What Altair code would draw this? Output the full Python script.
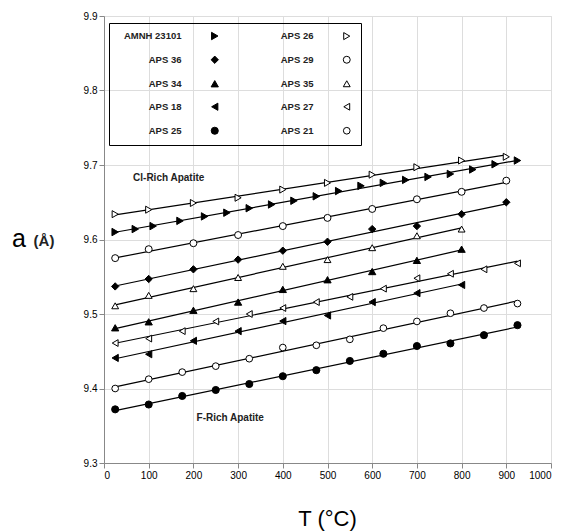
import altair as alt
import pandas as pd

# ---- data ----
T_AMNH_23101 = [25, 70, 110, 170, 225, 275, 325, 375, 425, 475, 525, 575, 625, 675, 725, 775, 825, 875, 925]
A_AMNH_23101 = [9.610, 9.614, 9.618, 9.625, 9.631, 9.636, 9.642, 9.647, 9.652, 9.658, 9.665, 9.672, 9.676,
                9.680, 9.684, 9.688, 9.694, 9.701, 9.706]

T_APS_26 = [25, 100, 200, 300, 400, 500, 600, 700, 800, 900]
A_APS_26 = [9.634, 9.640, 9.649, 9.656, 9.667, 9.676, 9.687, 9.697, 9.706, 9.711]

T_APS_29 = [25, 100, 200, 300, 400, 500, 600, 700, 800, 900]
A_APS_29 = [9.575, 9.587, 9.595, 9.606, 9.618, 9.629, 9.641, 9.654, 9.664, 9.679]

T_APS_36 = [25, 100, 200, 300, 400, 500, 600, 700, 800, 900]
A_APS_36 = [9.537, 9.547, 9.560, 9.573, 9.585, 9.597, 9.614, 9.618, 9.634, 9.650]

T_APS_35 = [25, 100, 200, 300, 400, 500, 600, 700, 800]
A_APS_35 = [9.511, 9.525, 9.534, 9.549, 9.564, 9.573, 9.589, 9.605, 9.614]

T_APS_34 = [25, 100, 200, 300, 400, 500, 600, 700, 800]
A_APS_34 = [9.4815, 9.4895, 9.505, 9.516, 9.533, 9.546, 9.557, 9.572, 9.587]

T_APS_27 = [25, 100, 175, 250, 325, 400, 475, 550, 625, 700, 775, 850, 925]
A_APS_27 = [9.461, 9.467, 9.477, 9.490, 9.500, 9.508, 9.516, 9.523, 9.534, 9.548, 9.554, 9.560, 9.568]

T_APS_18 = [25, 100, 200, 300, 400, 500, 600, 700, 800]
A_APS_18 = [9.441, 9.446, 9.464, 9.477, 9.4905, 9.498, 9.516, 9.528, 9.539]

T_APS_21 = [25, 100, 175, 250, 325, 400, 475, 550, 625, 700, 775, 850, 925]
A_APS_21 = [9.400, 9.4125, 9.422, 9.430, 9.440, 9.455, 9.458, 9.466, 9.481, 9.490, 9.501, 9.508, 9.514]

T_APS_25 = [25, 100, 175, 250, 325, 400, 475, 550, 625, 700, 775, 850, 925]
A_APS_25 = [9.372, 9.3785, 9.390, 9.398, 9.406, 9.4165, 9.4246, 9.437, 9.4466, 9.457, 9.4605, 9.4716, 9.485]

# legend order (filled column first, then open column)
SAMPLES = ["AMNH 23101", "APS 36", "APS 34", "APS 18", "APS 25",
           "APS 26", "APS 29", "APS 35", "APS 27", "APS 21"]
SHAPES = ["triangle-right", "diamond", "triangle-up", "triangle-left", "circle",
          "triangle-right", "circle", "triangle-up", "triangle-left", "circle"]
FILLS = ["black", "black", "black", "black", "black",
         "white", "white", "white", "white", "white"]
STROKES = ["black"] * 10
SIZES = [55, 45, 55, 55, 22, 55, 36, 55, 55, 24]

X_TICKS = list(range(0, 1001, 100))
Y_TICKS = [9.3, 9.4, 9.5, 9.6, 9.7, 9.8, 9.9]

NOTE_TEXT = ["Cl-Rich Apatite", "F-Rich Apatite"]
NOTE_T = [65, 207]
NOTE_A = [9.6827, 9.3608]

series = {
    "AMNH 23101": (T_AMNH_23101, A_AMNH_23101),
    "APS 26": (T_APS_26, A_APS_26),
    "APS 29": (T_APS_29, A_APS_29),
    "APS 36": (T_APS_36, A_APS_36),
    "APS 35": (T_APS_35, A_APS_35),
    "APS 34": (T_APS_34, A_APS_34),
    "APS 27": (T_APS_27, A_APS_27),
    "APS 18": (T_APS_18, A_APS_18),
    "APS 21": (T_APS_21, A_APS_21),
    "APS 25": (T_APS_25, A_APS_25),
}
rows = []
for name, (ts, as_) in series.items():
    for t, a in zip(ts, as_):
        rows.append({"sample": name, "T": t, "a": a})
df = pd.DataFrame(rows)
notes = pd.DataFrame({"text": NOTE_TEXT, "T": NOTE_T, "a": NOTE_A})

FONT = "Liberation Sans"

x_enc = alt.X("T:Q", scale=alt.Scale(domain=[0, 1000], nice=False),
              axis=alt.Axis(values=X_TICKS, format="d", title=None))
y_enc = alt.Y("a:Q", scale=alt.Scale(domain=[9.3, 9.9], nice=False, zero=False),
              axis=alt.Axis(values=Y_TICKS, format=".1f", title=None))

leg = alt.Legend(orient="none", legendX=5, legendY=7, columns=2, title=None,
                 labelAlign="right", labelOffset={"expr": "-38"}, symbolOffset=93,
                 columnPadding=28, rowPadding=12,
                 strokeColor="black", padding=8, labelFont=FONT, labelFontSize=9.5,
                 labelFontWeight="bold", labelColor="#222",
                 symbolStrokeColor="black", symbolStrokeWidth=1)

lines = alt.Chart(df).transform_regression(
    "T", "a", groupby=["sample"]
).mark_line(color="black", strokeWidth=1.2).encode(
    x=x_enc, y=y_enc, detail="sample:N"
)

points = alt.Chart(df).mark_point(filled=True, strokeWidth=1, opacity=1).encode(
    x=x_enc, y=y_enc,
    shape=alt.Shape("sample:N", scale=alt.Scale(domain=SAMPLES, range=SHAPES), legend=leg),
    fill=alt.Fill("sample:N", scale=alt.Scale(domain=SAMPLES, range=FILLS), legend=leg),
    stroke=alt.Stroke("sample:N", scale=alt.Scale(domain=SAMPLES, range=STROKES), legend=leg),
    size=alt.Size("sample:N", scale=alt.Scale(domain=SAMPLES, range=SIZES), legend=leg),
)

note_text = alt.Chart(notes).mark_text(align="left", baseline="middle", font=FONT,
                                       fontSize=10, fontWeight="bold", color="#222").encode(
    x="T:Q", y="a:Q", text="text:N"
)

one = alt.Data(values=[{"k": 1}])
x_title = alt.Chart(one).mark_text(text="T (°C)", font=FONT, fontSize=22, align="center",
                                   baseline="alphabetic", color="black").encode(
    x=alt.value(223.5), y=alt.value(510)
)
y_title_a = alt.Chart(one).mark_text(text="a", font=FONT, fontSize=25, align="center",
                                     baseline="alphabetic", color="black").encode(
    x=alt.value(-85), y=alt.value(231)
)
y_title_u = alt.Chart(one).mark_text(text="(Å)", font=FONT, fontSize=15, fontWeight="bold",
                                     align="center", baseline="alphabetic", color="#222").encode(
    x=alt.value(-60), y=alt.value(230)
)

chart = alt.layer(lines, points, note_text, x_title, y_title_a, y_title_u).properties(
    width=447, height=447,
    autosize=alt.AutoSizeParams(type="none"),
    padding={"left": 104, "top": 16, "right": 17, "bottom": 69},
).configure_view(
    stroke="black", strokeWidth=1.3
).configure_axis(
    grid=False, domainColor="black", domainWidth=2, tickColor="black", tickWidth=1.5,
    tickSize=5, labelFont=FONT, labelFontSize=10, labelFontWeight="bold", labelColor="#333",
    labelPadding=4
).configure(background="white")

chart.save("out.html", embed_options={"renderer": "svg", "actions": False})
